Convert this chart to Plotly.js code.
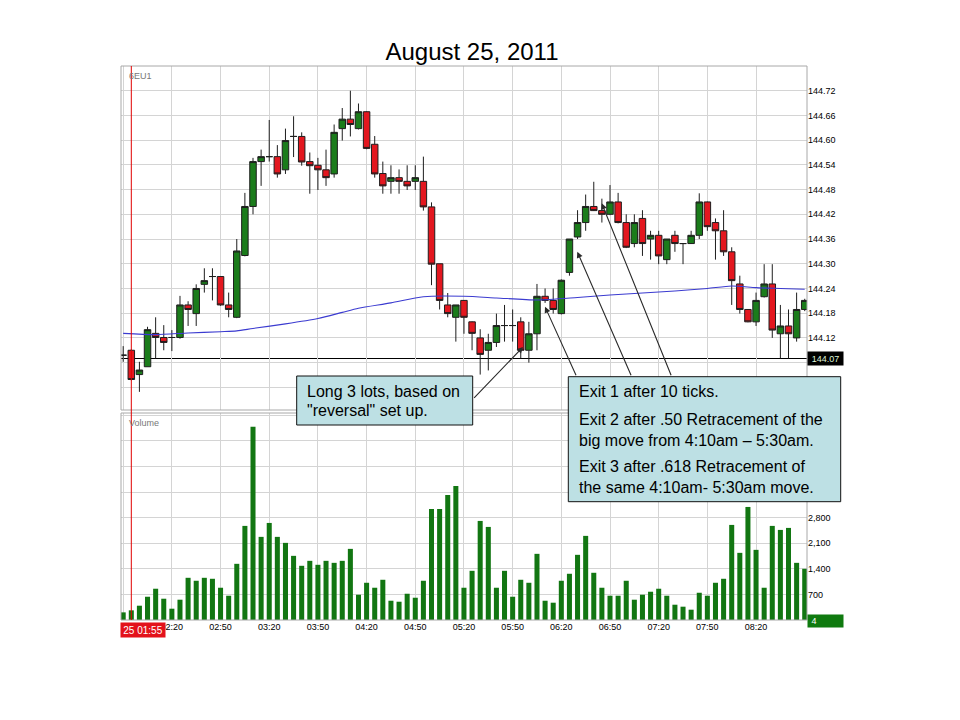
<!DOCTYPE html>
<html>
<head>
<meta charset="utf-8">
<script src="https://cdn.plot.ly/plotly-3.0.1.min.js"></script>
<style>html,body{margin:0;padding:0;background:#fff;}#chart{width:960px;height:720px;}</style>
</head>
<body>
<div id="chart"></div>
<script>
// ---- data ----
const sessionDate = '2011-08-25';
const times = ['01:50','01:55','02:00','02:05','02:10','02:15','02:20','02:25','02:30','02:35','02:40','02:45',
  '02:50','02:55','03:00','03:05','03:10','03:15','03:20','03:25','03:30','03:35','03:40','03:45',
  '03:50','03:55','04:00','04:05','04:10','04:15','04:20','04:25','04:30','04:35','04:40','04:45',
  '04:50','04:55','05:00','05:05','05:10','05:15','05:20','05:25','05:30','05:35','05:40','05:45',
  '05:50','05:55','06:00','06:05','06:10','06:15','06:20','06:25','06:30','06:35','06:40','06:45',
  '06:50','06:55','07:00','07:05','07:10','07:15','07:20','07:25','07:30','07:35','07:40','07:45',
  '07:50','07:55','08:00','08:05','08:10','08:15','08:20','08:25','08:30','08:35','08:40','08:45','08:50'];
const opens = [144.078,144.090,144.031,144.050,144.131,144.121,144.121,144.121,144.200,144.179,144.250,144.269,
  144.269,144.200,144.170,144.320,144.439,144.548,144.560,144.560,144.528,144.609,144.609,144.548,
  144.539,144.528,144.518,144.628,144.651,144.628,144.669,144.590,144.519,144.500,144.509,144.500,
  144.500,144.500,144.438,144.300,144.200,144.170,144.211,144.159,144.120,144.090,144.109,144.150,
  144.150,144.159,144.090,144.130,144.221,144.211,144.179,144.279,144.365,144.400,144.439,144.429,
  144.420,144.450,144.400,144.349,144.410,144.360,144.369,144.310,144.369,144.349,144.349,144.369,
  144.450,144.400,144.380,144.329,144.251,144.189,144.159,144.220,144.251,144.130,144.149,144.120,144.189];
const highs = [144.100,144.092,144.062,144.147,144.170,144.151,144.139,144.222,144.209,144.250,144.289,144.289,
  144.270,144.230,144.360,144.472,144.557,144.577,144.649,144.588,144.628,144.658,144.619,144.570,
  144.557,144.577,144.638,144.678,144.720,144.689,144.670,144.610,144.548,144.539,144.529,144.539,
  144.539,144.560,144.449,144.300,144.229,144.200,144.212,144.160,144.141,144.130,144.179,144.200,
  144.189,144.170,144.159,144.251,144.240,144.240,144.262,144.360,144.430,144.468,144.499,144.458,
  144.491,144.472,144.420,144.420,144.430,144.380,144.380,144.360,144.380,144.350,144.380,144.471,
  144.451,144.410,144.430,144.340,144.271,144.190,144.230,144.299,144.299,144.200,144.189,144.230,144.215];
const lows = [144.062,144.017,143.989,144.050,144.070,144.090,144.088,144.118,144.149,144.149,144.230,144.211,
  144.198,144.170,144.168,144.318,144.420,144.489,144.548,144.509,144.518,144.559,144.538,144.470,
  144.479,144.489,144.509,144.599,144.609,144.626,144.578,144.509,144.470,144.470,144.470,144.479,
  144.479,144.429,144.248,144.189,144.170,144.111,144.130,144.090,144.031,144.041,144.098,144.111,
  144.111,144.070,144.060,144.090,144.205,144.179,144.177,144.271,144.360,144.380,144.428,144.400,
  144.418,144.398,144.338,144.340,144.319,144.310,144.299,144.299,144.329,144.299,144.348,144.360,
  144.380,144.310,144.319,144.200,144.179,144.158,144.149,144.218,144.120,144.070,144.070,144.111,144.185];
const closes = [144.078,144.019,144.042,144.140,144.121,144.109,144.121,144.200,144.189,144.240,144.259,144.269,
  144.200,144.189,144.331,144.439,144.548,144.560,144.560,144.518,144.599,144.609,144.547,144.538,
  144.528,144.509,144.619,144.651,144.638,144.669,144.580,144.518,144.489,144.509,144.500,144.489,
  144.509,144.438,144.299,144.211,144.179,144.200,144.170,144.131,144.080,144.109,144.150,144.150,
  144.150,144.090,144.130,144.221,144.211,144.189,144.260,144.360,144.400,144.439,144.429,144.420,
  144.450,144.400,144.340,144.400,144.349,144.369,144.319,144.360,144.349,144.349,144.369,144.450,
  144.390,144.380,144.329,144.259,144.189,144.159,144.211,144.251,144.139,144.149,144.130,144.189,144.211];
const volumes = [209,264,391,636,855,582,309,555,1154,1073,1154,1127,
  882,664,1536,2573,5281,2273,2654,2273,2109,1754,1482,1618,
  1509,1618,1563,1618,1945,691,1018,882,1100,527,500,718,
  609,1073,3036,3036,3418,3663,882,1345,2709,2545,882,1345,
  636,1100,1018,1809,527,473,1073,1264,1782,2300,1291,882,
  664,664,1073,555,691,773,855,664,418,364,282,745,
  664,1018,1127,2600,1836,3091,1918,882,2573,2463,2518,1563,1400];
const maTimes = ['01:50','02:10','02:30','02:50','03:00','03:10','03:30','03:50','04:05','04:15','04:35','04:55',
  '05:20','05:40','06:05','06:30','06:50','07:10','07:30','07:50','08:05','08:20','08:35','08:50'];
const maValues = [144.131,144.128,144.132,144.135,144.137,144.143,144.154,144.167,144.182,144.192,144.205,144.220,
  144.221,144.217,144.212,144.218,144.224,144.229,144.234,144.240,144.246,144.242,144.240,144.238];
const refPrice = 144.07;
const startTime = '01:55';
const priceTicks = [144.00,144.06,144.12,144.18,144.24,144.30,144.36,144.42,144.48,144.54,144.60,144.66,144.72];
const priceTickText = ['','','144.12','144.18','144.24','144.30','144.36','144.42','144.48','144.54','144.60','144.66','144.72'];
const volumeTicks = [0,700,1400,2100,2800,3500,4200,4900,5600];
const volumeTickText = ['','700','1,400','2,100','2,800','','','',''];
const timeTicks = ['01:50','02:20','02:50','03:20','03:50','04:20','04:50','05:20','05:50','06:20','06:50','07:20','07:50','08:20'];
const timeTickText = ['','02:20','02:50','03:20','03:50','04:20','04:50','05:20','05:50','06:20','06:50','07:20','07:50','08:20'];
const title = 'August 25, 2011';
const note1 = ['Long 3 lots, based on', '"reversal" set up.'];
const note2 = ['Exit 1 after 10 ticks.', 'Exit 2 after .50 Retracement of the', 'big move from 4:10am \u2013 5:30am.',
  'Exit 3 after .618 Retracement of', 'the same 4:10am- 5:30am move.'];

// ---- helpers ----
const T = t => sessionDate + ' ' + t;
const FONT = '"Liberation Sans", Arial, sans-serif';
const L = 121, R = 153, TOP = 66, B = 100, W = 960 - L - R, H = 720 - TOP - B;
const PX = x => (x - L) / W;
const PY = y => (720 - B - y) / H;

const candles = {
  type: 'candlestick', x: times.map(T), open: opens, high: highs, low: lows, close: closes,
  xaxis: 'x', yaxis: 'y', whiskerwidth: 0, hoverinfo: 'skip',
  increasing: {fillcolor: '#1b7c1b', line: {color: '#1e1e1e', width: 1}},
  decreasing: {fillcolor: '#e3171f', line: {color: '#1e1e1e', width: 1}}
};
const ma = {
  type: 'scatter', mode: 'lines', x: maTimes.map(T), y: maValues, xaxis: 'x', yaxis: 'y',
  line: {color: '#3b3bd0', width: 1.1, shape: 'spline', smoothing: 0.7}, hoverinfo: 'skip'
};
const vol = {
  type: 'bar', x: times.map(T), y: volumes, xaxis: 'x', yaxis: 'y2',
  width: 186000, marker: {color: '#127612', line: {width: 0}}, hoverinfo: 'skip'
};

const annotations = [];
const textLine = (txt, x, y) => annotations.push({xref: 'paper', yref: 'paper', x: PX(x), y: PY(y), xanchor: 'left', yanchor: 'middle',
  text: txt, showarrow: false, font: {family: FONT, size: 16, color: '#000'}});
textLine(note1[0], 305, 391.5);
textLine(note1[1], 305, 410.5);
textLine(note2[0], 577, 391.5);
textLine(note2[1], 577, 419.5);
textLine(note2[2], 577, 440);
textLine(note2[3], 577, 466.5);
textLine(note2[4], 577, 487);

const arrow = (tipX, tipY, tailX, tailY) => annotations.push({xref: 'paper', yref: 'paper', x: PX(tipX), y: PY(tipY),
  ax: tailX - tipX, ay: tailY - tipY, text: '', showarrow: true, arrowhead: 2, arrowsize: 1.1, arrowwidth: 1.1,
  arrowcolor: '#2a2a2a', standoff: 0, startstandoff: 0});
arrow(523, 347, 472.7, 399.3);
arrow(545, 306.7, 576.7, 376.7);
arrow(577.3, 251.7, 631.7, 376.7);
arrow(601.7, 203.3, 671.7, 376.7);

annotations.push({xref: 'paper', yref: 'paper', x: PX(127), y: PY(76), xanchor: 'left', yanchor: 'middle',
  text: '6EU1', showarrow: false, font: {family: FONT, size: 9, color: '#777'}});
annotations.push({xref: 'paper', yref: 'paper', x: PX(127), y: PY(423), xanchor: 'left', yanchor: 'middle',
  text: 'Volume', showarrow: false, font: {family: FONT, size: 9, color: '#777'}});
annotations.push({xref: 'paper', yref: 'y', x: 1, y: refPrice, xanchor: 'left', yanchor: 'middle',
  text: refPrice.toFixed(2), showarrow: false, bgcolor: '#000', width: 33, height: 11, borderpad: 1, align: 'center',
  font: {family: FONT, size: 9, color: '#dff5d8'}});
annotations.push({xref: 'paper', yref: 'paper', x: 1, y: PY(621), xanchor: 'left', yanchor: 'middle',
  text: ' 4', showarrow: false, bgcolor: '#0f7a0f', width: 33, height: 10, borderpad: 1, align: 'left',
  font: {family: FONT, size: 9, color: '#fff'}});
annotations.push({xref: 'paper', yref: 'paper', x: PX(119.5), y: PY(621.5), xanchor: 'left', yanchor: 'top',
  text: '25 ' + startTime, showarrow: false, bgcolor: '#e3121b', width: 42, height: 12, borderpad: 1, align: 'center',
  font: {family: FONT, size: 10, color: '#fff'}});

const shapes = [
  {type: 'line', xref: 'paper', yref: 'y', x0: 0, x1: 1, y0: refPrice, y1: refPrice, line: {color: '#000', width: 1}, layer: 'below'},
  {type: 'rect', xref: 'paper', yref: 'paper', x0: 0, x1: 1, y0: PY(410), y1: 1, line: {color: '#a8a8a8', width: 1}, layer: 'above'},
  {type: 'rect', xref: 'paper', yref: 'paper', x0: 0, x1: 1, y0: 0, y1: PY(413), line: {color: '#a8a8a8', width: 1}, layer: 'above'},
  {type: 'line', xref: 'x', yref: 'paper', x0: T(startTime), x1: T(startTime), y0: 0, y1: 1, line: {color: '#e00000', width: 1}, layer: 'above'},
  {type: 'rect', xref: 'paper', yref: 'paper', x0: PX(296.7), x1: PX(472.7), y0: PY(425), y1: PY(376), fillcolor: '#bde0e4', line: {color: '#111', width: 1}, layer: 'above'},
  {type: 'rect', xref: 'paper', yref: 'paper', x0: PX(568.3), x1: PX(840.7), y0: PY(501.7), y1: PY(376.7), fillcolor: '#bde0e4', line: {color: '#111', width: 1}, layer: 'above'}
];

const GRID = '#d4d4d4';
const layout = {
  width: 960, height: 720,
  margin: {l: L, r: R, t: TOP, b: B, pad: 0},
  paper_bgcolor: '#fff', plot_bgcolor: '#fff', showlegend: false,
  boxgap: 0.2, boxgroupgap: 0,
  font: {family: FONT, size: 9, color: '#000'},
  title: {text: title, font: {family: FONT, size: 24, color: '#000'}, xref: 'container', x: 472 / 960, xanchor: 'center',
    yref: 'container', y: 1 - 52 / 720, yanchor: 'middle'},
  xaxis: {type: 'date', anchor: 'y2', range: [T('01:48:39'), T('08:51:24')], tickvals: timeTicks.map(T), ticktext: timeTickText,
    showgrid: true, gridcolor: GRID, gridwidth: 1, zeroline: false, showline: false, ticks: '', tickfont: {size: 9, color: '#000'},
    rangeslider: {visible: false}, fixedrange: true},
  yaxis: {domain: [PY(410), 1], range: [143.945, 144.78], side: 'right', anchor: 'x', tickvals: priceTicks, ticktext: priceTickText,
    showgrid: true, gridcolor: GRID, zeroline: false, ticks: '', tickfont: {size: 9, color: '#000'}, fixedrange: true},
  yaxis2: {domain: [0, PY(413)], range: [0, 5660], side: 'right', anchor: 'x', tickvals: volumeTicks, ticktext: volumeTickText,
    showgrid: true, gridcolor: GRID, zeroline: false, ticks: '', tickfont: {size: 9, color: '#000'}, fixedrange: true},
  shapes: shapes,
  annotations: annotations
};

Plotly.newPlot('chart', [vol, candles, ma], layout, {staticPlot: true, displayModeBar: false});
</script>
</body>
</html>
